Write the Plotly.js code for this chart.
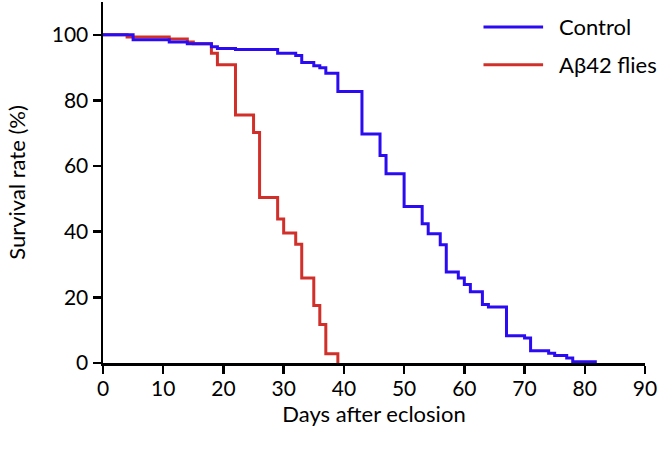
<!DOCTYPE html>
<html>
<head>
<meta charset="utf-8">
<script src="https://cdn.plot.ly/plotly-3.0.1.min.js"></script>
<style>
  html, body { margin: 0; padding: 0; background: #fff; }
  #chart { width: 660px; height: 454px; }
</style>
</head>
<body>
<div id="chart"></div>
<script>
// Kaplan-Meier style survival steps
const control_days = [0, 5, 11, 14, 18, 19, 22, 29, 32, 33, 35, 36, 37, 39, 43, 46, 47, 50, 53, 54, 56, 57, 59, 60, 61, 63, 64, 67, 70, 71, 74, 75, 77, 78, 82];
const control_survival = [100, 98.5, 97.8, 97.3, 96.4, 95.8, 95.5, 94.4, 93.7, 91.6, 90.6, 90.0, 88.3, 82.7, 69.8, 63.2, 57.7, 47.7, 42.4, 39.4, 36.0, 27.7, 25.9, 23.9, 21.7, 17.8, 17.1, 8.3, 7.6, 3.7, 3.0, 2.3, 1.5, 0.4, 0.4];

const abeta_days = [0, 4, 11, 14, 15, 18, 19, 22, 25, 26, 29, 30, 32, 33, 35, 36, 37, 39];
const abeta_survival = [100, 99.3, 98.7, 97.8, 97.3, 94.4, 90.9, 75.6, 70.2, 50.4, 43.9, 39.6, 36.2, 25.9, 17.5, 11.7, 2.8, 0];

const series_names = ["Control", "A\u03b242 flies"];
const series_colors = ["#2b0cf2", "#d1302a"];

const x_ticks = [0, 10, 20, 30, 40, 50, 60, 70, 80, 90];
const y_ticks = [0, 20, 40, 60, 80, 100];

const font_family = "Lato, 'Open Sans', sans-serif";

const abeta_line = {
    name: series_names[1],
    x: abeta_days,
    y: abeta_survival,
    mode: "lines",
    type: "scatter",
    line: { color: series_colors[1], width: 3, shape: "hv" },
    showlegend: false,
    hoverinfo: "skip",
};

const control_line = {
    name: series_names[0],
    x: control_days,
    y: control_survival,
    mode: "lines",
    type: "scatter",
    line: { color: series_colors[0], width: 3, shape: "hv" },
    showlegend: false,
    hoverinfo: "skip",
};

// hand drawn legend so the sample lines can be as long as in the figure
const legend_rows = [0.931, 0.826];
const legend_shapes = series_names.map((name, i) => ({
    type: "line",
    xref: "paper",
    yref: "paper",
    x0: 0.702,
    x1: 0.812,
    y0: legend_rows[i],
    y1: legend_rows[i],
    line: { color: series_colors[i], width: 3 },
}));
const legend_labels = series_names.map((name, i) => ({
    text: name,
    xref: "paper",
    yref: "paper",
    x: 0.838,
    y: legend_rows[i],
    xanchor: "left",
    yanchor: "middle",
    showarrow: false,
    font: { family: font_family, size: 22, color: "#000" },
}));

const axis_common = {
    showgrid: false,
    zeroline: false,
    showline: true,
    linecolor: "#000",
    linewidth: 2.5,
    ticks: "outside",
    ticklen: 8,
    tickwidth: 2.5,
    tickcolor: "#000",
    tickfont: { family: font_family, size: 21, color: "#000" },
};

const layout = {
    width: 660,
    height: 454,
    margin: { l: 103, r: 15, t: 2, b: 91 },
    paper_bgcolor: "#fff",
    plot_bgcolor: "#fff",
    xaxis: Object.assign({}, axis_common, {
        range: [0, 90],
        tickvals: x_ticks,
        ticklabelstandoff: -3,
        title: { text: "Days after eclosion", font: { family: font_family, size: 22, color: "#000" }, standoff: 2 },
    }),
    yaxis: Object.assign({}, axis_common, {
        range: [0, 110],
        tickvals: y_ticks,
        title: { text: "Survival rate (%)", font: { family: font_family, size: 22, color: "#000" }, standoff: 20 },
    }),
    shapes: legend_shapes,
    annotations: legend_labels,
};

Plotly.newPlot("chart", [abeta_line, control_line], layout, { staticPlot: true });
</script>
</body>
</html>
